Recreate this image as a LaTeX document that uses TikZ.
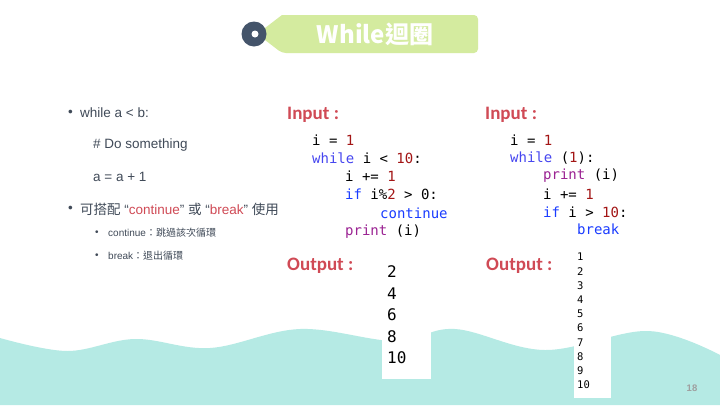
\documentclass[tikz,border=0pt]{standalone}
\usepackage{fontspec}
\setmainfont{Liberation Sans}
\newfontfamily\cjk{Noto Sans CJK TC}
\newfontfamily\calibri{Carlito}
\newfontfamily\mono{DejaVu Sans Mono}
\definecolor{wave}{HTML}{B5EAE4}
\definecolor{tabgreen}{HTML}{D4EB9F}
\definecolor{slate}{HTML}{44546A}
\definecolor{txt}{HTML}{404A58}
\definecolor{hot}{HTML}{D04A55}
\definecolor{kw}{HTML}{1A3CFF}
\definecolor{loopkw}{HTML}{4646F0}
\definecolor{num}{HTML}{A31515}
\definecolor{fn}{HTML}{9B2393}
\newcommand{\n}[1]{\textcolor{num}{#1}}
\begin{document}
\begin{tikzpicture}[x=1pt,y=-1pt,
    txt/.style={anchor=west,inner sep=0pt,text=txt,font=\fontsize{13.5}{16}\selectfont},
    small/.style={anchor=west,inner sep=0pt,text=txt,font=\fontsize{10}{12}\selectfont},
    code/.style={anchor=west,inner sep=0pt,font=\mono\fontsize{14}{16}\selectfont},
    label/.style={anchor=west,inner sep=0pt,text=hot,font=\calibri\bfseries\fontsize{19}{22}\selectfont},
    outbig/.style={anchor=west,inner sep=0pt,font=\mono\fontsize{16}{18}\selectfont},
    outsmall/.style={anchor=west,inner sep=0pt,font=\mono\fontsize{10.5}{12}\selectfont}]
  \useasboundingbox (0,0) rectangle (720,405);
  \fill[white] (0,0) rectangle (720,405);
  % wave at the bottom
  \fill[wave] plot[smooth,tension=0.6] coordinates {(0,338) (67,351) (135,339) (210,348)
      (300,329) (395,341) (455,329) (545,350) (648,331) (720,355)}
    -- (720,405) -- (0,405) -- cycle;
  % title
  \fill[tabgreen,rounded corners=4pt] (282,15) -- (478,15) -- (478,53) -- (282,53)
    [sharp corners] -- (265,40) -- (265,28) -- cycle;
  \fill[slate] (254,34) circle (12.5);
  \fill[white] (255,34) circle (3.5);
  \node[text=white,font=\cjk\bfseries\fontsize{24}{28}\selectfont] (title) at (375,34) {While迴圈};
  % bullets
  \draw
    (68,113) node[txt] (b1){•}
    (80,113) node[txt] (while){while a < b:}
    (93,145) node[txt] (do){\# Do something}
    (93,177) node[txt] (inc){a = a + 1}
    (68,209) node[txt] (b2){•}
    (80,209) node[txt] (use){{\cjk 可搭配} “\textcolor{hot}{continue}” {\cjk 或} “\textcolor{hot}{break}” {\cjk 使用}}
    (95,233) node[small] (b3){•}
    (108,233) node[small] (cont){continue{\cjk ：跳過該次循環}}
    (95,256) node[small] (b4){•}
    (108,256) node[small] (brk){break{\cjk ：退出循環}};
  % input labels
  \draw
    (287,115) node[label] (in1){Input :}
    (485,115) node[label] (in2){Input :}
    (287,266) node[label] (out1){Output :}
    (486,266) node[label] (out2){Output :};
  % left program
  \draw
    (312,140) node[code] (l1){i = \n{1}}
    (312,158) node[code] (l2){\textcolor{loopkw}{while} i < \n{10}:}
    (345,176) node[code] (l3){i += \n{1}}
    (345,194) node[code] (l4){\textcolor{kw}{if} i\%\n{2} > 0:}
    (380,213) node[code] (l5){\textcolor{kw}{continue}}
    (345,232) node[code] (l6){\textcolor{fn}{print} (i)};
  % right program
  \draw
    (510,140) node[code] (r1){i = \n{1}}
    (510,158) node[code] (r2){\textcolor{loopkw}{while} (\n{1}):}
    (543,176) node[code] (r3){\textcolor{fn}{print} (i)}
    (543,194) node[code] (r4){i += \n{1}}
    (543,212) node[code] (r5){\textcolor{kw}{if} i > \n{10}:}
    (577,229) node[code] (r6){\textcolor{kw}{break}};
  % outputs
  \fill[white] (382,255) rectangle (431,379);
  \fill[white] (574,248) rectangle (611,398);
  \foreach \v [count=\k from 0] in {2,4,6,8,10}
    \node[outbig] (o\v) at (387,272+21.5*\k) {\v};
  \foreach \v [count=\k from 0] in {1,...,10}
    \node[outsmall] (p\v) at (577,257+14.2*\k) {\v};
  \node[text=gray!75,font=\bfseries\fontsize{9.5}{11}\selectfont] (page) at (692,388) {18};
\end{tikzpicture}
\end{document}
